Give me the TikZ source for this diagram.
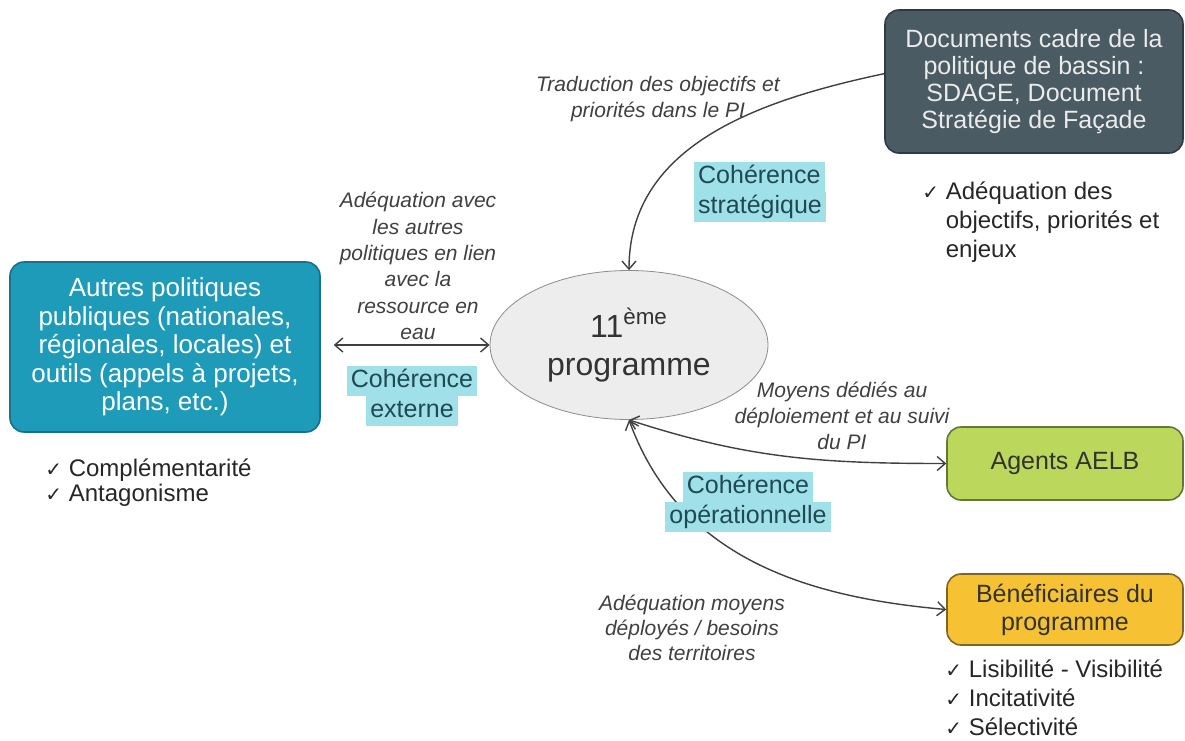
\documentclass[tikz,border=0pt]{standalone}
\usepackage{fontspec}
\setmainfont{Liberation Sans}
\newfontfamily\symfont{DejaVu Sans}
\usetikzlibrary{shapes.geometric,arrows.meta}

\definecolor{slatebox}{HTML}{4B5B64}
\definecolor{slateline}{HTML}{2F3B42}
\definecolor{tealbox}{HTML}{1D9BB9}
\definecolor{tealline}{HTML}{15728A}
\definecolor{limebox}{HTML}{BCD85C}
\definecolor{limeline}{HTML}{66753A}
\definecolor{sunbox}{HTML}{F6C233}
\definecolor{sunline}{HTML}{7D6526}
\definecolor{hlcyan}{HTML}{A0E0E8}
\definecolor{hltext}{HTML}{1F4A52}
\definecolor{labtext}{HTML}{404040}

\newcommand{\hlline}[1]{{\setlength{\fboxsep}{0pt}\colorbox{hlcyan}{\strut\,#1\,}}}
\newcommand{\ck}{{\symfont\fontsize{10}{10}\selectfont ✓}}

\tikzset{
  box/.style={draw, rounded corners=7pt, line width=0.8pt, align=center, inner sep=2pt},
  note/.style={align=center, text=labtext, font=\fontsize{10.5}{13}\selectfont\itshape},
  coh/.style={text=hltext, font=\fontsize{12.5}{15}\selectfont, inner sep=0pt},
  checks/.style={anchor=west, align=left, text=black!85, font=\fontsize{12}{14.5}\selectfont, inner sep=0pt},
  link/.style={draw=black!75, line width=0.7pt},
  >={Straight Barb[length=4pt,width=7pt]}
}

\begin{document}
\begin{tikzpicture}[x=0.5pt, y=-0.5pt]
 \useasboundingbox (0,0) rectangle (1185,740);

 % boxes
 \node[box, fill=slatebox, draw=slateline, text=black!8, minimum width=149pt, minimum height=71.5pt,
   font=\fontsize{12.5}{13.5}\selectfont] (docs) at (1034,81.5)
   {Documents cadre de la\\politique de bassin :\\SDAGE, Document\\Stratégie de Façade};
 \node[box, fill=tealbox, draw=tealline, text=white, minimum width=155pt, minimum height=85pt,
   font=\fontsize{13}{14.25}\selectfont] (autres) at (165,347)
   {Autres politiques\\publiques (nationales,\\régionales, locales) et\\outils (appels à projets,\\plans, etc.)};
 \node[box, fill=limebox, draw=limeline, text=black!80, minimum width=118pt, minimum height=36.5pt,
   font=\fontsize{12.5}{14}\selectfont] (agents) at (1065,463.5) {Agents AELB};
 \node[box, fill=sunbox, draw=sunline, text=black!80, minimum width=118pt, minimum height=35.5pt,
   font=\fontsize{12.5}{14}\selectfont] (benef) at (1065,609.5) {Bénéficiaires du\\programme};
 \node[ellipse, draw=black!45, fill=black!7, text=black!80, minimum width=139pt, minimum height=74.5pt,
   align=center, font=\fontsize{16}{19}\selectfont] (prog) at (629,345) {11\textsuperscript{ème}\\programme};

 % check lists
 \node[checks] (chkdocs) at (922,222)
   {\ck\ Adéquation des\\\phantom{\ck\ }objectifs, priorités et\\\phantom{\ck\ }enjeux};
 \node[checks, font=\fontsize{12}{12.5}\selectfont] (chkautres) at (45,482.5)
   {\ck\ Complémentarité\\\ck\ Antagonisme};
 \node[checks] (chkbenef) at (945,697.5)
   {\ck\ Lisibilité - Visibilité\\\ck\ Incitativité\\\ck\ Sélectivité};

 % notes
 \node[note] (trad) at (658,99) {Traduction des objectifs et\\priorités dans le PI};
 \node[note, font=\fontsize{10.5}{13.2}\selectfont\itshape] (adeqext) at (418,266)
   {Adéquation avec\\les autres\\politiques en lien\\avec la\\ressource en\\eau};
 \node[note] (moyens) at (842,416) {Moyens dédiés au\\déploiement et au suivi\\du PI};
 \node[note, font=\fontsize{10.5}{12.5}\selectfont\itshape] (adeqop) at (692,628)
   {Adéquation moyens\\déployés / besoins\\des territoires};

 \node[coh, align=left] (cohstrat) at (760,192) {\hlline{Cohérence}\\\hlline{stratégique}};
 \node[coh, align=center] (cohext) at (412,396) {\hlline{Cohérence}\\\hlline{externe}};

 \coordinate (extl) at ([xshift=6.5pt]prog.west -| autres.east);

 \draw [link, ->] (docs.177) to [out=192, in=90] (prog.north);
 \draw [link, <->] (extl) -- (prog.west);
 \draw [link, <->] (prog.south) to [out=-18, in=180] (agents.west);
 \draw [link, <->] (prog.south) to [out=-70, in=175] (benef.west);

 \node[coh, align=center] (cohop) at (748,502) {\hlline{Cohérence}\\\hlline{opérationnelle}};
\end{tikzpicture}
\end{document}
